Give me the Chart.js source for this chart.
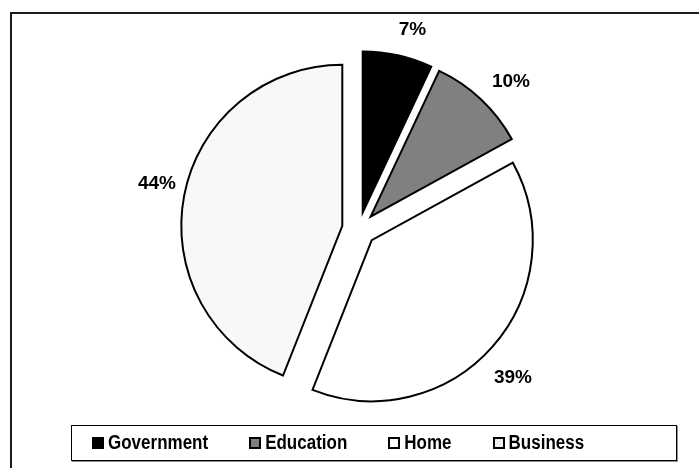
<!DOCTYPE html>
<html>
<head>
<meta charset="utf-8">
<title>Share by sector</title>
<script src="https://cdn.jsdelivr.net/npm/chart.js@4.4.1/dist/chart.umd.min.js"></script>
<style>
  html,body{margin:0;padding:0;background:#fff;}
  body{width:699px;height:468px;position:relative;overflow:hidden;font-family:"Liberation Sans",Arial,sans-serif;}
  #frame{position:absolute;left:10px;top:12px;width:720px;height:480px;border:2px solid #1c1c1c;}
  #pie{position:absolute;left:0;top:0;}
  #legend{position:absolute;left:71px;top:425px;width:584px;height:34px;padding-left:20px;border:1px solid #000;box-shadow:1px 1px 0 #8c8c8c;background:#fff;display:flex;align-items:center;}
  #legend .item{display:flex;align-items:center;margin-right:41px;font-weight:bold;font-size:17px;color:#000;white-space:nowrap;}
  #legend .item span:last-child{display:inline-block;transform:scaleY(1.14);transform-origin:50% 55%;}
  #legend .sw{width:8px;height:8px;border:2px solid #000;margin-right:4px;}
</style>
</head>
<body>
<div id="frame"></div>
<canvas id="pie" width="699" height="468"></canvas>
<div id="legend"></div>
<script>
var sectors = ['Government', 'Education', 'Home', 'Business'];
var shares = [7, 10, 39, 44];
var fills = ['#000000', '#808080', '#ffffff', '#f8f8f8'];
var legendFills = ['#000000', '#808080', '#ffffff', '#efefef'];

var EXPLODE = 17;                 // px each slice is pulled out from the centre
var LABEL_TURN = 2.5 * Math.PI / 180;

(function(){
  // push every slice outward along its own mid angle
  var explode = {
    id: 'explode',
    afterDatasetUpdate: function(chart, args){
      args.meta.data.forEach(function(arc){
        var mid = (arc.startAngle + arc.endAngle) / 2;
        arc.x += Math.cos(mid) * EXPLODE;
        arc.y += Math.sin(mid) * EXPLODE;
      });
    }
  };

  // percentage text just outside each slice
  var pctLabels = {
    id: 'pctLabels',
    afterDatasetsDraw: function(chart){
      var c = chart.ctx;
      c.save();
      c.font = 'bold 19px "Liberation Sans", Arial, sans-serif';
      c.fillStyle = '#000';
      c.textAlign = 'center';
      c.textBaseline = 'middle';
      chart.getDatasetMeta(0).data.forEach(function(arc, i){
        var a = (arc.startAngle + arc.endAngle) / 2 + LABEL_TURN;
        var s = Math.sin(2 * a);
        var d = arc.outerRadius + 28 + 7 * s * s;
        c.fillText(shares[i] + '%', arc.x + Math.cos(a) * d, arc.y + Math.sin(a) * d + 2);
      });
      c.restore();
    }
  };

  function buildLegend(){
    var box = document.getElementById('legend');
    sectors.forEach(function(name, i){
      var item = document.createElement('div');
      item.className = 'item';
      var sw = document.createElement('span');
      sw.className = 'sw';
      sw.style.background = legendFills[i];
      var txt = document.createElement('span');
      txt.textContent = name;
      item.appendChild(sw);
      item.appendChild(txt);
      box.appendChild(item);
    });
  }

  function buildChart(){
    var cv = document.getElementById('pie');
    if(!cv || !window.Chart) return;
    new Chart(cv.getContext('2d'), {
      type: 'pie',
      data: {
        labels: sectors,
        datasets: [{
          data: shares,
          backgroundColor: fills,
          borderColor: '#000',
          borderWidth: 2,
          borderJoinStyle: 'miter'
        }]
      },
      options: {
        responsive: false,
        animation: false,
        events: [],
        radius: 161,
        layout: {padding: {left: 19, right: 0, top: 0, bottom: 10}},
        plugins: {legend: {display: false}, tooltip: {enabled: false}}
      },
      plugins: [explode, pctLabels]
    });
  }

  buildLegend();
  buildChart();
})();
</script>
</body>
</html>
